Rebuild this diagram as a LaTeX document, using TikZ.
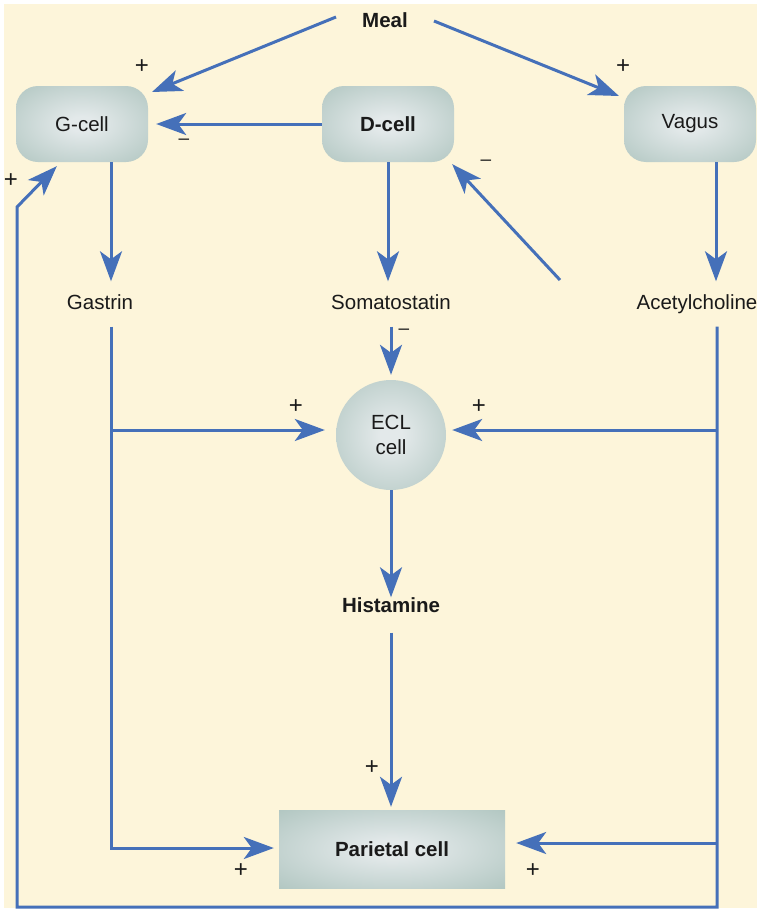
\documentclass[tikz,border=0pt]{standalone}
\usepackage{fontspec}
\setmainfont{Liberation Sans}
\usetikzlibrary{arrows.meta,calc}
\definecolor{bgcream}{HTML}{FDF5DA}
\definecolor{arrowblue}{HTML}{4570B9}
\definecolor{cellin}{HTML}{E3E9EA}
\definecolor{cellout}{HTML}{ABC2BC}
\definecolor{inkc}{HTML}{1A1A1A}
\pgfdeclareradialshading{cellshade}{\pgfpoint{0bp}{0bp}}{color(0bp)=(cellin); color(5bp)=(cellin); color(40bp)=(cellout); color(50bp)=(cellout)}
\begin{document}
\begin{tikzpicture}[x=1pt,y=-1pt,
  every node/.style={font=\fontsize{20.5}{25}\selectfont, text=inkc},
  cellbox/.style={rounded corners=22pt, shading=cellshade, minimum width=132pt, minimum height=76pt, inner sep=0pt},
  eclshape/.style={circle, shading=cellshade, minimum size=110pt, inner sep=0pt, align=center},
  parbox/.style={rectangle, shading=cellshade, minimum width=226pt, minimum height=78pt, inner sep=0pt},
  lab/.style={inner xsep=0pt, inner ysep=0pt, text height=15pt, text depth=4pt},
  midlab/.style={lab, inner ysep=13pt},
  conn/.style={draw=arrowblue, line width=3pt, -{Stealth[length=30pt,width=22pt,inset=8pt]}},
  sign/.style={font=\fontsize{24}{26}\selectfont, inner sep=0pt},
  minus/.style={font=\fontsize{19}{22}\selectfont, inner sep=0pt}
]
\useasboundingbox (0,0) rectangle (760,910);
\fill[bgcream] (4,4) rectangle (757,908);

% nodes
\node[lab] (meal) at (385,22) {\textbf{Meal}};
\node[cellbox] (gcell) at (82,124) {G-cell};
\node[cellbox] (dcell) at (388,124) {\textbf{D-cell}};
\node[cellbox] (vagus) at (690,124) {Vagus};
\node[midlab] (gastrin) at (100,304) {Gastrin};
\node[midlab] (somat) at (391,304) {Somatostatin};
\node[midlab] (ach) at (697,304) {Acetylcholine};
\node[eclshape] (ecl) at (391,435) {ECL\\cell};
\node[lab] (hist) at (391,607) {\textbf{Histamine}};
\node[parbox] (pariet) at (392,849) {\textbf{Parietal cell}};

% helper coordinates
\coordinate (mealL) at (336,17);
\coordinate (mealR) at (434,21);
\coordinate (gIn) at (152,92);
\coordinate (vIn) at (619,96);
\coordinate (gx) at (111,0);
\coordinate (ax) at (717,0);
\coordinate (vx) at (716,0);
\coordinate (ly) at (0,430);
\coordinate (ry) at (0,843);
\coordinate (bot) at (0,907);
\coordinate (lx) at (17,0);
\coordinate (lup) at (17,207);
\coordinate (fbk) at (560,280);

% connectors
\draw[conn] (mealL) -- (gIn);
\draw[conn] (mealR) -- (vIn);
\draw[conn, shorten >=8pt] (dcell.west) -- (gcell.east);
\draw[conn] (gcell.south -| gx) -- (gastrin.north -| gx);
\draw[conn] (dcell.south) -- (dcell.south |- somat.north);
\draw[conn] (vagus.south -| vx) -- (ach.north -| vx);
\draw[conn] (fbk) -- ($(dcell.south east)+(-2,2)$);
\draw[conn, shorten >=5pt] (somat.south) -- (ecl.north);
\draw[conn, shorten >=5pt] (gastrin.south -| gx) |- (pariet.west |- 0,848);
\draw[conn] (gx |- ly) -- ($(ecl.west |- ly)+(-11,0)$);
\draw[conn] (ach.south -| ax) -- (ax |- bot) -- (lx |- bot) -- (lup) -- ($(gcell.south west)+(41,4)$);
\draw[conn] (ax |- ly) -- ($(ecl.east |- ly)+(6,0)$);
\draw[conn] (ax |- ry) -- ($(pariet.east |- ry)+(11,0)$);
\draw[conn] (ecl.south) -- (hist.north);
\draw[conn, shorten >=3pt] ($(hist.south)+(0,16)$) -- (hist.south |- pariet.north);

% signs
\node[sign] (s1) at (142,67) {+};
\node[sign] (s2) at (623,67) {+};
\node[sign] (s3) at (11,181) {+};
\node[minus] (s4) at (184,142) {\textendash};
\node[minus] (s5) at (486,163) {\textendash};
\node[minus] (s6) at (404,332) {\textendash};
\node[sign] (s7) at (296,407) {+};
\node[sign] (s8) at (479,407) {+};
\node[sign] (s9) at (372,768) {+};
\node[sign] (s10) at (241,871) {+};
\node[sign] (s11) at (533,871) {+};
\end{tikzpicture}
\end{document}
